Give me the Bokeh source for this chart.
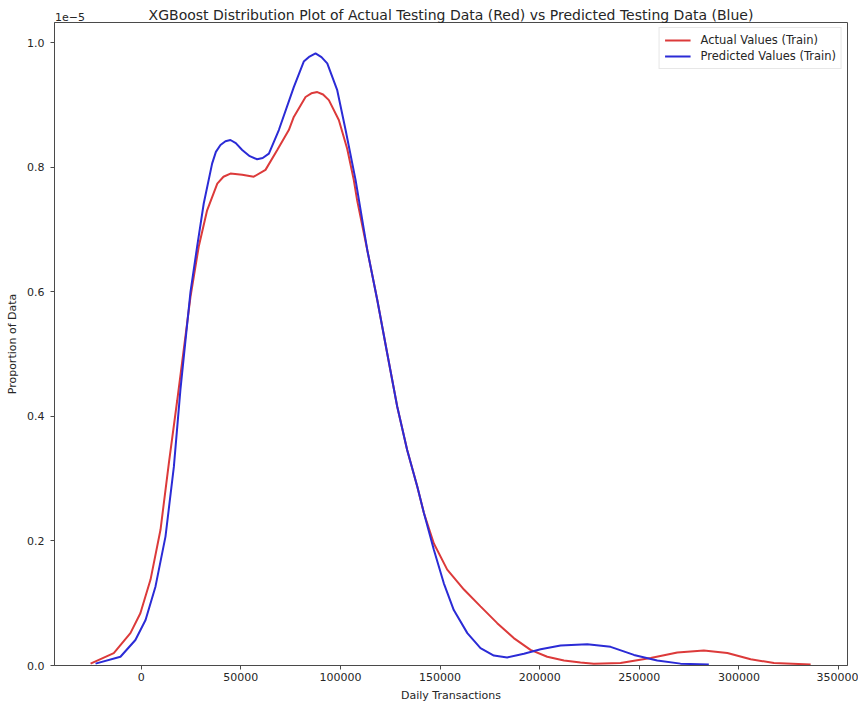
from bokeh.plotting import figure
from bokeh.models import (Range1d, FixedTicker, PrintfTickFormatter, Legend, LegendItem,
                          LinearAxis)
from bokeh.embed import file_html
from bokeh.resources import INLINE

# ---- data (density in units of 1e-5) ----
actual_x = [-25400, -13750, -5400, -400, 4700, 9700, 13900, 18100, 24750, 28900, 33100,
            38200, 41300, 44800, 50700, 56500, 62400, 68300, 74100, 76600, 82500, 85400,
            88400, 91300, 94200, 99200, 103400, 106700, 108400, 113500, 118500, 123500,
            128500, 133500, 138600, 141900, 146900, 153600, 162000, 170300, 178700, 187000,
            195400, 203800, 212200, 220500, 227200, 240600, 255700, 269100, 282400, 294200,
            305900, 317600, 336000]
actual_y = [0.003, 0.020, 0.052, 0.084, 0.138, 0.218, 0.325, 0.426, 0.592, 0.673, 0.731,
            0.774, 0.785, 0.790, 0.788, 0.785, 0.796, 0.828, 0.860, 0.881, 0.913, 0.919,
            0.921, 0.917, 0.908, 0.876, 0.830, 0.780, 0.747, 0.667, 0.587, 0.501,
            0.416, 0.346, 0.287, 0.245, 0.196, 0.154, 0.122, 0.095, 0.068, 0.044,
            0.025, 0.014, 0.008, 0.005, 0.003, 0.004, 0.012, 0.021, 0.024, 0.020,
            0.010, 0.004, 0.0016]

pred_x = [-22900, -10400, -2900, 2200, 7200, 12200, 16400, 19700, 24750, 28100, 31400,
          35600, 37500, 39800, 42300, 44800, 47500, 50700, 54500, 58200, 61000, 64100,
          69100, 76600, 81600, 84500, 87500, 90500, 93400, 98400, 102600, 107600, 113500,
          118500, 123500, 128500, 133500, 138600, 141900, 146900, 151900, 156900, 163700,
          170300, 177000, 183700, 192100, 200500, 210500, 223900, 235600, 247300, 259000,
          270700, 284900]
pred_y = [0.003, 0.014, 0.041, 0.073, 0.127, 0.207, 0.319, 0.443, 0.600, 0.673, 0.742,
          0.806, 0.825, 0.836, 0.842, 0.844, 0.839, 0.828, 0.818, 0.813, 0.815, 0.822,
          0.860, 0.929, 0.970, 0.978, 0.983, 0.977, 0.967, 0.924, 0.860, 0.780, 0.667,
          0.587, 0.501, 0.416, 0.346, 0.287, 0.245, 0.186, 0.132, 0.089, 0.052,
          0.028, 0.016, 0.013, 0.019, 0.026, 0.032, 0.034, 0.030, 0.017, 0.008,
          0.003, 0.0016]

x_ticks = [0, 50000, 100000, 150000, 200000, 250000, 300000, 350000]
y_ticks = [0.0, 0.2, 0.4, 0.6, 0.8, 1.0]

TITLE = "XGBoost Distribution Plot of Actual Testing Data (Red) vs Predicted Testing Data (Blue)"
OFFSET_TEXT = "1e\u22125"
OFFSET_POS = -35700   # x position (data units) where the offset text sits

RED = "#dc3a3a"
BLUE = "#2b2bd6"
TXT = "#262626"
FONT = "DejaVu Sans"
SPINE = "#4a4a4a"

p = figure(width=858, height=704, output_backend="svg", toolbar_location=None,
           title=None,
           x_range=Range1d(-43500, 354500), y_range=Range1d(0, 1.0327),
           min_border_left=54, min_border_right=11, min_border_top=22, min_border_bottom=38)
p.background_fill_color = "white"
p.border_fill_color = "white"
p.outline_line_color = SPINE
p.outline_line_width = 1
p.xgrid.visible = False
p.ygrid.visible = False

r1 = p.line(actual_x, actual_y, line_color=RED, line_width=2)
r2 = p.line(pred_x, pred_y, line_color=BLUE, line_width=2)

for ax in (p.xaxis[0], p.yaxis[0]):
    ax.axis_line_color = SPINE
    ax.major_tick_line_color = SPINE
    ax.major_tick_out = 4
    ax.major_tick_in = 0
    ax.minor_tick_line_color = None
    ax.major_label_text_font = FONT
    ax.major_label_text_font_size = "11px"
    ax.major_label_text_color = TXT
    ax.axis_label_text_font = FONT
    ax.axis_label_text_font_size = "11px"
    ax.axis_label_text_font_style = "normal"
    ax.axis_label_text_color = TXT

p.xaxis.ticker = FixedTicker(ticks=x_ticks)
p.xaxis.formatter = PrintfTickFormatter(format="%d")
p.xaxis.axis_label = "Daily Transactions"
p.xaxis.major_label_standoff = 3
p.xaxis.axis_label_standoff = 5

p.yaxis.ticker = FixedTicker(ticks=y_ticks)
p.yaxis.formatter = PrintfTickFormatter(format="%.1f")
p.yaxis.axis_label = "Proportion of Data"
p.yaxis.major_label_standoff = 6
p.yaxis.axis_label_standoff = 5

# top axis used only for the title and the "1e-5" offset text (not clipped by the frame)
top = LinearAxis(ticker=FixedTicker(ticks=[OFFSET_POS]),
                 major_label_overrides={OFFSET_POS: OFFSET_TEXT},
                 axis_label=TITLE)
top.axis_line_color = None
top.major_tick_line_color = None
top.minor_tick_line_color = None
top.major_tick_out = 0
top.major_tick_in = 0
top.major_label_standoff = 2
top.major_label_text_font = FONT
top.major_label_text_font_size = "11px"
top.major_label_text_color = TXT
top.axis_label_text_font = FONT
top.axis_label_text_font_size = "14px"
top.axis_label_text_font_style = "normal"
top.axis_label_text_color = TXT
top.axis_label_standoff = -13
p.add_layout(top, "above")

legend = Legend(items=[LegendItem(label="Actual Values (Train)", renderers=[r1]),
                       LegendItem(label="Predicted Values (Train)", renderers=[r2])],
                location="top_right")
legend.margin = 5
legend.padding = 5
legend.spacing = 2
legend.glyph_width = 26
legend.glyph_height = 14
legend.label_height = 14
legend.label_standoff = 10
legend.label_text_font = FONT
legend.label_text_font_size = "11.5px"
legend.label_text_color = TXT
legend.border_line_color = "#d0d0d0"
legend.background_fill_alpha = 0.9
p.add_layout(legend)

open("out.html", "w").write(file_html(p, INLINE))
